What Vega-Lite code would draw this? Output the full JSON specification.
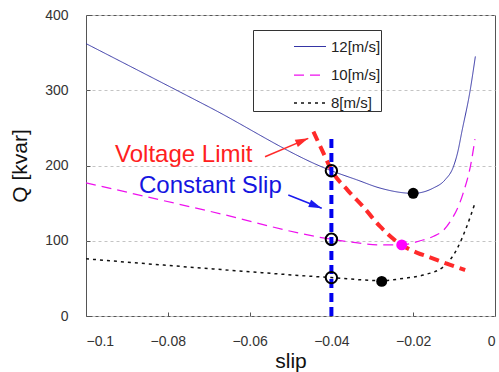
{
  "$schema": "https://vega.github.io/schema/vega-lite/v6.json",
  "autosize": "none",
  "padding": {"left": 86, "top": 15, "right": 4, "bottom": 56},
  "width": 409,
  "height": 301,
  "config": {
    "font": "Liberation Sans",
    "view": {"stroke": "#555", "strokeWidth": 1},
    "axis": {"labelFont": "Liberation Sans", "titleFont": "Liberation Sans", "labelColor": "#333", "titleColor": "#111", "titleFontWeight": "normal", "tickColor": "#555", "domain": false}
  },
  "datasets": {
    "curves": [
      {"series": "12[m/s]", "slip": -0.1, "Q": 362},
      {"series": "12[m/s]", "slip": -0.07, "Q": 278},
      {"series": "12[m/s]", "slip": -0.04, "Q": 193},
      {"series": "12[m/s]", "slip": -0.0338, "Q": 181},
      {"series": "12[m/s]", "slip": -0.0281, "Q": 170},
      {"series": "12[m/s]", "slip": -0.02, "Q": 163},
      {"series": "12[m/s]", "slip": -0.0151, "Q": 170},
      {"series": "12[m/s]", "slip": -0.0122, "Q": 181},
      {"series": "12[m/s]", "slip": -0.0102, "Q": 198},
      {"series": "12[m/s]", "slip": -0.0091, "Q": 218},
      {"series": "12[m/s]", "slip": -0.0081, "Q": 245},
      {"series": "12[m/s]", "slip": -0.0061, "Q": 299},
      {"series": "12[m/s]", "slip": -0.0048, "Q": 345},
      {"series": "10[m/s]", "slip": -0.1, "Q": 177},
      {"series": "10[m/s]", "slip": -0.07, "Q": 139.5},
      {"series": "10[m/s]", "slip": -0.04, "Q": 102},
      {"series": "10[m/s]", "slip": -0.034, "Q": 97.5},
      {"series": "10[m/s]", "slip": -0.028, "Q": 94.5},
      {"series": "10[m/s]", "slip": -0.0228, "Q": 94.5},
      {"series": "10[m/s]", "slip": -0.0183, "Q": 100},
      {"series": "10[m/s]", "slip": -0.015, "Q": 106},
      {"series": "10[m/s]", "slip": -0.0126, "Q": 114},
      {"series": "10[m/s]", "slip": -0.011, "Q": 125},
      {"series": "10[m/s]", "slip": -0.0078, "Q": 163},
      {"series": "10[m/s]", "slip": -0.0058, "Q": 205},
      {"series": "10[m/s]", "slip": -0.0049, "Q": 235},
      {"series": "8[m/s]", "slip": -0.1, "Q": 76},
      {"series": "8[m/s]", "slip": -0.07, "Q": 63},
      {"series": "8[m/s]", "slip": -0.04, "Q": 51},
      {"series": "8[m/s]", "slip": -0.0277, "Q": 47},
      {"series": "8[m/s]", "slip": -0.0224, "Q": 50},
      {"series": "8[m/s]", "slip": -0.0175, "Q": 54.5},
      {"series": "8[m/s]", "slip": -0.0126, "Q": 65.5},
      {"series": "8[m/s]", "slip": -0.0094, "Q": 88},
      {"series": "8[m/s]", "slip": -0.0069, "Q": 119},
      {"series": "8[m/s]", "slip": -0.0049, "Q": 150}
    ],
    "limit": [
      {"slip": -0.0444, "Q": 245},
      {"slip": -0.042, "Q": 217},
      {"slip": -0.04, "Q": 194},
      {"slip": -0.036, "Q": 167},
      {"slip": -0.0322, "Q": 145},
      {"slip": -0.0281, "Q": 119},
      {"slip": -0.023, "Q": 95},
      {"slip": -0.019, "Q": 84},
      {"slip": -0.0159, "Q": 78},
      {"slip": -0.012, "Q": 70},
      {"slip": -0.0073, "Q": 61}
    ]
  },
  "layer": [
    {
      "data": {"name": "curves"},
      "mark": {"type": "line", "interpolate": "monotone"},
      "encoding": {
        "x": {"field": "slip", "type": "quantitative", "title": "slip",
          "scale": {"domain": [-0.1, 0], "nice": false},
          "axis": {"values": [-0.1, -0.08, -0.06, -0.04, -0.02, 0], "format": "~g", "grid": false, "tickSize": -4, "labelPadding": 22, "labelFontSize": 14, "titleFontSize": 21, "titlePadding": 2}},
        "y": {"field": "Q", "type": "quantitative", "title": "Q [kvar]",
          "scale": {"domain": [0, 400], "nice": false},
          "axis": {"values": [0, 100, 200, 300, 400], "grid": true, "gridDash": [3, 3], "gridColor": "#c4c4c4", "tickSize": -4, "labelPadding": 22, "labelFontSize": 14, "titleFontSize": 21, "titlePadding": 14}},
        "color": {"field": "series", "type": "nominal",
          "scale": {"domain": ["12[m/s]", "10[m/s]", "8[m/s]"], "range": ["#3535a5", "#ee11ee", "#111111"]},
          "legend": {"orient": "none", "legendX": 167, "legendY": 15, "strokeColor": "#333", "padding": 0, "symbolType": "stroke", "symbolSize": 1024, "symbolOffset": 40, "labelOffset": 4, "rowPadding": 3, "labelFontSize": 15, "labelColor": "#222", "labelFont": "Liberation Sans", "labelLimit": 300, "title": null, "labelExpr": "datum.label + '\u3000\u3000\u2002'"}},
        "strokeDash": {"field": "series", "type": "nominal",
          "scale": {"domain": ["12[m/s]", "10[m/s]", "8[m/s]"], "range": [[1, 0], [10, 6], [3, 4]]},
          "legend": null},
        "strokeWidth": {"field": "series", "type": "nominal",
          "scale": {"domain": ["12[m/s]", "10[m/s]", "8[m/s]"], "range": [1, 1.5, 2]},
          "legend": null}
      }
    },
    {
      "data": {"name": "limit"},
      "mark": {"type": "line", "interpolate": "monotone", "color": "#ff2a2a", "strokeWidth": 4, "strokeDash": [10, 6]},
      "encoding": {
        "x": {"field": "slip", "type": "quantitative"},
        "y": {"field": "Q", "type": "quantitative"}
      }
    },
    {
      "data": {"values": [{"slip": -0.04, "Q0": 0, "Q1": 237}]},
      "mark": {"type": "rule", "color": "#0000ee", "strokeWidth": 4, "strokeDash": [9, 5]},
      "encoding": {
        "x": {"field": "slip", "type": "quantitative"},
        "y": {"field": "Q0", "type": "quantitative"},
        "y2": {"field": "Q1"}
      }
    },
    {
      "data": {"values": [{"slip": -0.04, "Q": 193}, {"slip": -0.04, "Q": 102}, {"slip": -0.04, "Q": 51}]},
      "mark": {"type": "point", "shape": "circle", "filled": false, "stroke": "#000", "strokeWidth": 2, "size": 130, "opacity": 1},
      "encoding": {
        "x": {"field": "slip", "type": "quantitative"},
        "y": {"field": "Q", "type": "quantitative"}
      }
    },
    {
      "data": {"values": [{"slip": -0.02, "Q": 163}, {"slip": -0.0277, "Q": 46}]},
      "mark": {"type": "circle", "color": "#000", "size": 120, "opacity": 1},
      "encoding": {
        "x": {"field": "slip", "type": "quantitative"},
        "y": {"field": "Q", "type": "quantitative"}
      }
    },
    {
      "data": {"values": [{"slip": -0.0228, "Q": 94.5}]},
      "mark": {"type": "circle", "color": "#ff00ff", "size": 120, "opacity": 1},
      "encoding": {
        "x": {"field": "slip", "type": "quantitative"},
        "y": {"field": "Q", "type": "quantitative"}
      }
    },
    {
      "data": {"values": [{"slip": -0.05623, "Q": 211.7, "slip2": -0.04565, "Q2": 236.1}]},
      "mark": {"type": "rule", "color": "#ff2a2a", "strokeWidth": 1.5},
      "encoding": {
        "x": {"field": "slip", "type": "quantitative"},
        "y": {"field": "Q", "type": "quantitative"},
        "x2": {"field": "slip2"},
        "y2": {"field": "Q2"}
      }
    },
    {
      "data": {"values": [{"slip": -0.04565, "Q": 236.1}]},
      "mark": {"type": "point", "shape": "M0,0L-2,-0.6L-2,0.6Z", "filled": true, "color": "#ff2a2a", "size": 169, "angle": 337, "opacity": 1},
      "encoding": {
        "x": {"field": "slip", "type": "quantitative"},
        "y": {"field": "Q", "type": "quantitative"}
      }
    },
    {
      "data": {"values": [{"slip": -0.05054, "Q": 160.8, "slip2": -0.04237, "Q2": 143.1}]},
      "mark": {"type": "rule", "color": "#1a1aee", "strokeWidth": 1.5},
      "encoding": {
        "x": {"field": "slip", "type": "quantitative"},
        "y": {"field": "Q", "type": "quantitative"},
        "x2": {"field": "slip2"},
        "y2": {"field": "Q2"}
      }
    },
    {
      "data": {"values": [{"slip": -0.04237, "Q": 143.1}]},
      "mark": {"type": "point", "shape": "M0,0L-2,-0.6L-2,0.6Z", "filled": true, "color": "#1a1aee", "size": 169, "angle": 22, "opacity": 1},
      "encoding": {
        "x": {"field": "slip", "type": "quantitative"},
        "y": {"field": "Q", "type": "quantitative"}
      }
    },
    {
      "data": {"values": [{"slip": -0.0929, "Q": 205, "label": "Voltage Limit"}]},
      "mark": {"type": "text", "align": "left", "baseline": "alphabetic", "fontSize": 24, "color": "#ff2020", "font": "Liberation Sans"},
      "encoding": {
        "x": {"field": "slip", "type": "quantitative"},
        "y": {"field": "Q", "type": "quantitative"},
        "text": {"field": "label"}
      }
    },
    {
      "data": {"values": [{"slip": -0.08704, "Q": 163.5, "label": "Constant Slip"}]},
      "mark": {"type": "text", "align": "left", "baseline": "alphabetic", "fontSize": 24, "color": "#1515e0", "font": "Liberation Sans"},
      "encoding": {
        "x": {"field": "slip", "type": "quantitative"},
        "y": {"field": "Q", "type": "quantitative"},
        "text": {"field": "label"}
      }
    }
  ]
}
